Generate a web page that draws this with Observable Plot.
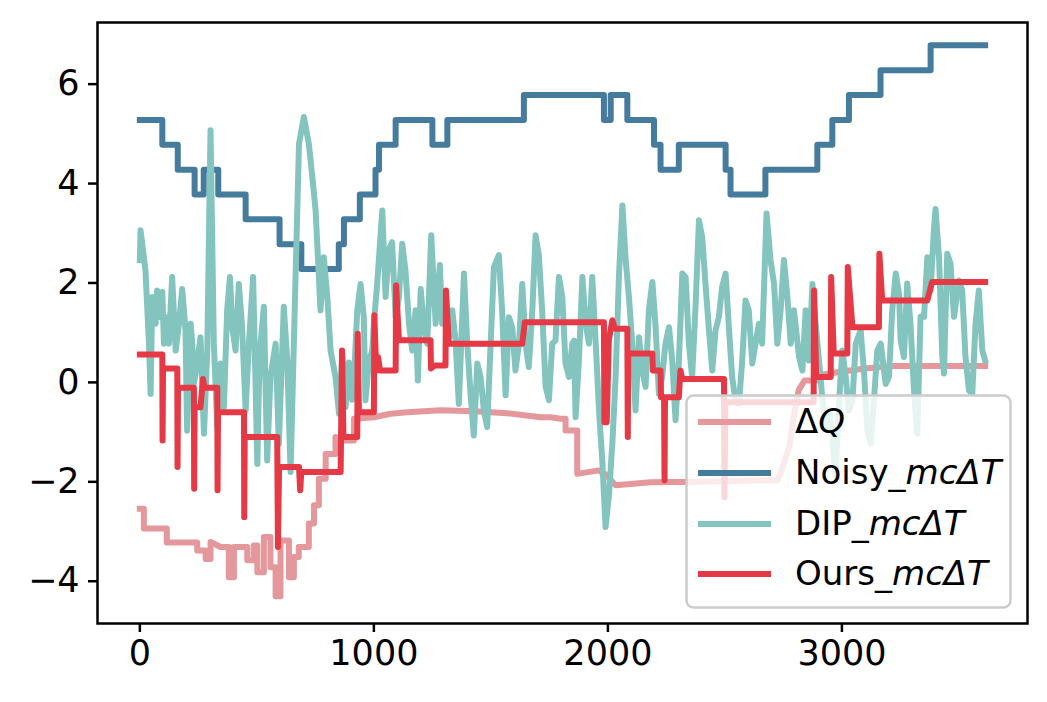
<!DOCTYPE html>
<html><head><meta charset="utf-8">
<script src="https://cdn.jsdelivr.net/npm/d3@7"></script>
<script src="https://cdn.jsdelivr.net/npm/@observablehq/plot@0.6"></script>
<style>
body{margin:0;background:#fff;}
#wrap{position:relative;width:1047px;height:702px;}
#legend{position:absolute;left:0;top:0;pointer-events:none;}
</style></head>
<body><div id="wrap"></div>
<script>
const xTicks = [0, 1000, 2000, 3000];
const yTicks = [-4, -2, 0, 2, 4, 6];

const noisyX = [0,96,162,234,273,335,452,597,690,850,872,940,1007,1022,1093,1250,1314,1641,1983,2012,2083,2197,2225,2303,2503,2524,2673,2895,2959,3030,3165,3379,3612];
const noisyY = [5.28,4.78,4.28,3.78,4.28,3.78,3.28,2.78,2.28,2.78,3.28,3.78,4.28,4.78,5.28,4.78,5.28,5.78,5.28,5.78,5.28,4.78,4.28,4.78,4.28,3.78,4.28,4.78,5.28,5.78,6.28,6.78,6.78];

const dqX = [0,17,17,115,115,245,245,281,281,302,302,345,380,380,402,402,459,459,487,487,502,502,530,530,558,558,580,580,601,601,637,637,658,658,679,679,722,722,744,744,765,765,794,794,836,836,872,915,915,1000,1071,1143,1285,1428,1570,1712,1755,1798,1819,1819,1869,1869,1960,1990,2033,2182,2400,2673,2724,2740,2775,2790,2805,2815,2840,2900,2910,3000,3100,3215,3612];
const dqY = [-2.54,-2.54,-2.94,-2.94,-3.22,-3.22,-3.38,-3.38,-3.55,-3.55,-3.21,-3.31,-3.31,-3.92,-3.92,-3.31,-3.31,-3.58,-3.58,-3.28,-3.28,-3.82,-3.82,-3.11,-3.11,-3.72,-3.72,-4.30,-4.30,-3.18,-3.18,-3.92,-3.92,-3.51,-3.51,-3.31,-3.31,-2.84,-2.84,-2.47,-2.47,-1.94,-1.94,-1.44,-1.44,-1.10,-1.17,-1.17,-0.73,-0.70,-0.63,-0.60,-0.56,-0.58,-0.62,-0.70,-0.70,-0.73,-0.73,-0.97,-0.97,-1.84,-1.77,-1.85,-2.07,-2.01,-2.00,-1.97,-1.97,-1.80,-1.30,-0.80,-0.40,-0.16,0.04,0.04,0.15,0.22,0.28,0.33,0.33];

const dipX = [0,3,24,39,46,53,67,74,89,96,103,117,124,138,153,167,181,195,202,217,224,231,245,259,274,288,302,316,331,345,359,373,385,395,409,423,437,452,466,484,502,509,516,530,544,558,580,594,615,630,644,658,680,701,722,737,751,765,772,786,801,815,836,851,865,879,893,907,915,929,943,957,964,979,993,1000,1014,1036,1050,1064,1078,1093,1107,1121,1135,1150,1164,1178,1188,1200,1214,1228,1245,1264,1282,1292,1306,1321,1335,1349,1363,1385,1399,1413,1427,1442,1456,1470,1484,1499,1513,1534,1548,1563,1577,1591,1605,1620,1634,1648,1662,1677,1691,1705,1719,1734,1748,1762,1776,1791,1805,1819,1834,1848,1855,1862,1876,1891,1905,1919,1933,1948,1962,1976,1990,2005,2019,2033,2047,2062,2076,2090,2104,2118,2133,2147,2161,2175,2190,2204,2218,2232,2246,2261,2275,2289,2303,2318,2332,2346,2360,2375,2389,2403,2417,2431,2446,2460,2474,2488,2503,2517,2531,2545,2560,2574,2588,2602,2617,2631,2645,2659,2678,2695,2710,2724,2738,2752,2767,2781,2795,2817,2831,2845,2859,2874,2888,2916,2931,2945,2959,2973,2988,3002,3016,3030,3045,3059,3080,3094,3109,3123,3137,3151,3166,3187,3201,3215,3230,3244,3251,3265,3279,3293,3308,3322,3336,3351,3365,3379,3393,3400,3415,3429,3436,3450,3464,3479,3500,3514,3528,3543,3557,3571,3585,3600,3612];
const dipY = [2.46,3.06,2.25,0.78,-0.23,1.72,1.18,1.85,1.31,1.82,0.78,1.31,0.78,2.12,0.64,1.18,1.88,1.05,-0.97,1.18,0.78,-0.03,0.38,0.91,-1.03,0.64,5.07,0.78,-0.90,0.38,-0.50,1.45,2.12,1.11,0.64,1.98,1.11,-0.56,0.78,2.12,-1.64,-0.03,0.78,1.52,-1.57,0.11,0.78,-1.23,1.52,0.44,-1.80,0.78,4.80,5.34,4.80,4.13,3.46,2.12,1.45,2.52,1.72,0.64,0.11,-0.63,0.55,-0.50,0.40,-0.35,0.11,1.45,1.98,1.31,-0.36,0.44,0.64,1.18,1.98,3.46,1.72,2.66,2.82,1.31,1.72,2.79,2.25,1.18,0.64,1.45,0.04,1.88,1.11,0.78,2.96,1.18,2.36,1.18,1.72,0.91,1.45,0.84,-0.43,2.19,0.78,-0.23,-1.07,0.38,0.11,-0.56,-0.90,0.78,2.32,2.56,1.45,-0.26,1.31,1.11,0.24,0.78,1.98,0.78,0.31,1.45,2.96,2.56,1.45,-0.09,-0.36,0.78,0.84,2.12,1.72,0.38,0.11,0.78,0.84,-0.70,0.44,2.12,1.18,0.78,2.12,0.78,-0.56,-1.57,-2.91,-2.24,-1.23,0.11,2.12,3.56,2.46,1.72,0.78,-0.56,0.91,0.24,-0.09,1.45,2.02,1.11,-0.23,0.11,0.78,1.11,0.44,-0.76,0.38,2.19,2.12,0.78,0.11,1.58,3.26,2.92,1.98,1.11,0.24,1.05,1.31,1.92,2.19,1.11,0.11,-0.36,-0.43,0.44,1.65,1.45,0.38,0.78,1.18,0.78,3.40,2.46,1.98,0.78,1.45,2.46,1.72,0.78,1.45,0.51,0.24,1.45,0.44,1.98,1.18,-0.30,-0.90,-0.56,-1.10,-1.90,-0.36,0.64,0.11,-0.56,-0.36,0.78,1.05,0.24,-0.97,-1.23,-0.36,0.64,0.78,-0.03,0.11,1.45,2.19,1.78,0.84,0.51,1.99,1.18,-0.16,-1.03,1.32,1.32,2.52,1.85,3.06,3.49,2.52,0.51,0.18,2.59,2.39,1.32,2.05,1.85,0.51,-0.16,-0.23,1.18,1.85,0.64,0.44];

const oursX = [0,96,97,99,160,161,163,231,232,234,259,270,276,331,332,334,445,446,448,587,590,595,680,685,690,858,864,870,929,931,936,1000,1002,1010,1014,1018,1026,1093,1095,1107,1242,1244,1260,1306,1308,1320,1634,1645,1983,1985,1995,2004,2019,2030,2083,2085,2087,2190,2192,2225,2227,2240,2242,2244,2303,2310,2318,2496,2498,2502,2879,2881,2890,2952,2954,2965,3023,3025,3045,3158,3160,3172,3365,3385,3612];
const oursY = [0.56,0.56,-1.17,0.28,0.28,-1.70,-0.11,-0.11,-2.14,-0.50,-0.50,0.07,-0.11,-0.11,-2.17,-0.60,-0.60,-2.71,-1.10,-1.10,-3.31,-1.70,-1.70,-2.17,-1.80,-1.80,0.64,-1.10,-1.10,0.98,-0.60,-0.60,1.35,0.24,0.51,0.51,0.24,0.24,1.95,0.85,0.85,0.28,0.34,0.34,1.85,0.78,0.78,1.21,1.21,-0.80,-0.80,0.85,1.25,1.08,1.08,-1.10,0.58,0.58,0.24,0.24,-0.30,-0.30,-1.97,-0.30,-0.30,0.24,0.07,0.07,-2.31,-0.40,-0.40,1.85,0.11,0.11,2.12,0.58,0.58,2.32,1.11,1.11,2.59,1.65,1.65,2.02,2.02];

const seriesNames = ["ΔQ", "Noisy_mcΔT", "DIP_mcΔT", "Ours_mcΔT"];
const seriesColors = ["#E5989B", "#457B9D", "#83C5BE", "#E63946"];

const toRows = (xs, ys) => xs.map((x, i) => ({x, y: ys[i]}));
const dq = toRows(dqX, dqY), noisy = toRows(noisyX, noisyY), dip = toRows(dipX, dipY), ours = toRows(oursX, oursY);

const lineOpts = {x: "x", y: "y", strokeWidth: 6, strokeLinejoin: "round", strokeLinecap: "square"};
const fmt = d => d < 0 ? "\u2212" + (-d) : String(d);

const chart = Plot.plot({
  width: 1047, height: 702,
  marginLeft: 97, marginRight: 20, marginTop: 22, marginBottom: 79,
  style: {fontFamily: "DejaVu Sans", fontSize: "35px", background: "white", color: "black", overflow: "visible"},
  x: {domain: [-181, 3793]},
  y: {domain: [-4.85, 7.24]},
  marks: [
    Plot.line(dq, {...lineOpts, stroke: seriesColors[0]}),
    Plot.line(noisy, {...lineOpts, curve: "step-after", stroke: seriesColors[1]}),
    Plot.line(dip, {...lineOpts, stroke: seriesColors[2]}),
    Plot.line(ours, {...lineOpts, stroke: seriesColors[3]}),
    Plot.frame({stroke: "black", strokeWidth: 2.5}),
    Plot.axisX({ticks: xTicks, tickSize: 9, tickPadding: 8, strokeWidth: 2.5, tickFormat: fmt, label: null, fontSize: 35}),
    Plot.axisY({ticks: yTicks, tickSize: 9, tickPadding: 9, strokeWidth: 2.5, tickFormat: fmt, label: null, fontSize: 35})
  ]
});
const wrap = document.getElementById("wrap");
wrap.appendChild(chart);

// legend overlay (matplotlib-style, inside the axes, lower right)
const ns = "http://www.w3.org/2000/svg";
const lg = document.createElementNS(ns, "svg");
lg.setAttribute("id", "legend");
lg.setAttribute("width", 1047); lg.setAttribute("height", 702);
const box = document.createElementNS(ns, "rect");
Object.entries({x: 686.5, y: 395.5, width: 324, height: 212, rx: 7, fill: "white", "fill-opacity": 0.8, stroke: "#cccccc", "stroke-width": 2.5}).forEach(([k, v]) => box.setAttribute(k, v));
lg.appendChild(box);
const rowsY = [422, 473, 524, 574];
seriesNames.forEach((name, i) => {
  const ln = document.createElementNS(ns, "line");
  Object.entries({x1: 698, x2: 771, y1: rowsY[i], y2: rowsY[i], stroke: seriesColors[i], "stroke-width": 6}).forEach(([k, v]) => ln.setAttribute(k, v));
  lg.appendChild(ln);
  const t = document.createElementNS(ns, "text");
  t.setAttribute("x", 795); t.setAttribute("y", rowsY[i] + 11);
  t.setAttribute("font-family", "DejaVu Sans"); t.setAttribute("font-size", 34);
  let plain, ital;
  if (i === 0) { plain = "Δ"; ital = "Q"; } else { const k = name.indexOf("_"); plain = name.slice(0, k + 1); ital = name.slice(k + 1); }
  const a = document.createElementNS(ns, "tspan"); a.textContent = plain; t.appendChild(a);
  const b = document.createElementNS(ns, "tspan"); b.setAttribute("font-style", "italic"); b.textContent = ital; t.appendChild(b);
  lg.appendChild(t);
});
wrap.appendChild(lg);
</script>
</body></html>
